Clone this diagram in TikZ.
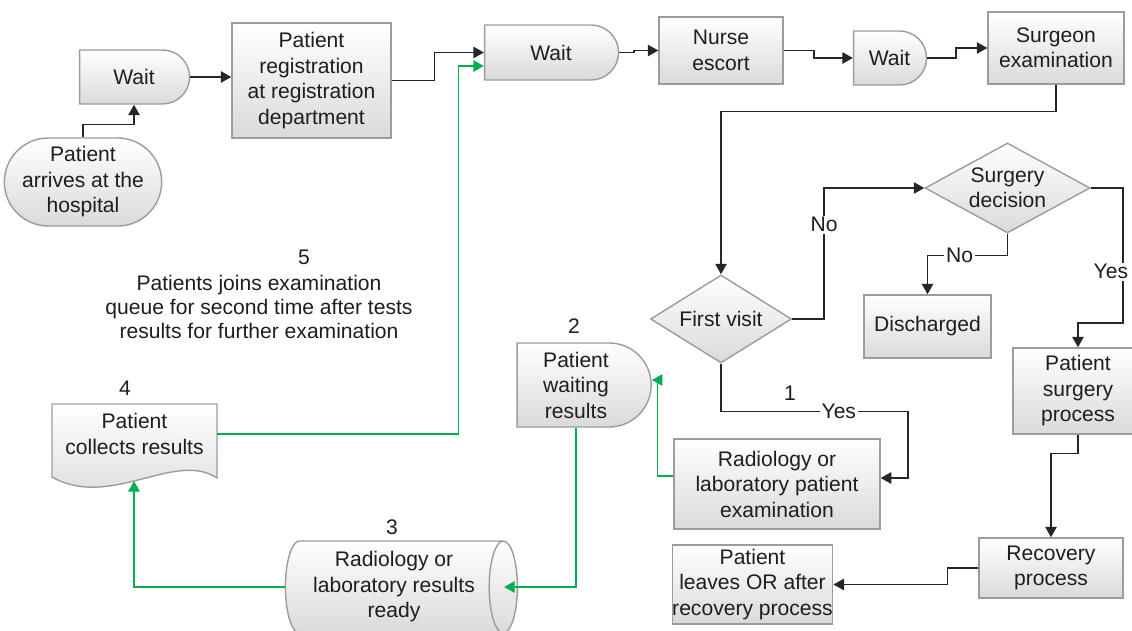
\documentclass[tikz,border=0pt]{standalone}
\usepackage{fontspec}
\setmainfont{Liberation Sans}
\usetikzlibrary{shapes.geometric,shapes.misc,arrows.meta,calc}

\definecolor{boxline}{HTML}{9C9C9C}
\definecolor{boxlow}{HTML}{DADADA}
\definecolor{inktext}{HTML}{1E1E1E}
\definecolor{flowgreen}{HTML}{00B050}

\tikzset{
	every node/.style={font=\fontsize{12}{14.5}\selectfont, text=inktext},
	box/.style={draw=boxline, line width=.8pt, top color=white, bottom color=boxlow, align=center, inner sep=0pt},
	boxsize/.style 2 args={minimum width=#1*0.02cm, minimum height=#2*0.02cm},
	process/.style={box, rectangle},
	waitbox/.style={box, rounded rectangle, rounded rectangle west arc=none},
	startbox/.style={box, rounded rectangle},
	decision/.style={box, diamond, aspect=1.8},
	store/.style={box, cylinder, aspect=0.4},
	flow/.style={draw=black!85, line width=.9pt, -{Triangle[length=6pt,width=6.5pt]}},
	greenflow/.style={flow, draw=flowgreen},
	answer/.style={fill=white, inner sep=1pt},
}

\begin{document}
\begin{tikzpicture}[x=0.02cm, y=-0.02cm]
	\useasboundingbox (0,0) rectangle (1132,631);
	% Admission row
	\node[waitbox, boxsize={110}{54}] (wait1) at (134,77) {Wait};
	\node[startbox, boxsize={145}{88}] (arrive) at (83,182) {Patient\\arrives at the\\hospital};
	\node[process, boxsize={159}{115}] (reg) at (311.5,80.5) {Patient\\registration\\at registration\\department};
	\node[waitbox, boxsize={134}{55}] (wait2) at (551,52.5) {Wait};
	\node[process, boxsize={124}{67}] (nurse) at (721,50.5) {Nurse\\escort};
	\node[waitbox, boxsize={73}{54}] (wait3) at (889.5,58) {Wait};
	\node[process, boxsize={136}{72}] (surgeon) at (1056,48) {Surgeon\\examination};
	% Decisions and surgery
	\node[decision, boxsize={141}{88}] (first) at (721,319) {First visit};
	\node[decision, boxsize={165}{90}] (decide) at (1007.5,188) {Surgery\\decision};
	\node[process, boxsize={127}{63}] (disch) at (927.5,326.5) {Discharged};
	\node[process, boxsize={130}{86}] (surgery) at (1078,391) {Patient\\surgery\\process};
	\node[process, boxsize={144}{60}] (recover) at (1051,568) {Recovery\\process};
	\node[process, boxsize={157}{79}] (leave) at (752.5,584.5) {Patient\\leaves OR after\\recovery process};
	% Tests loop
	\node[process, boxsize={206}{90}] (radexam) at (777,484) {Radiology or\\laboratory patient\\examination};
	\node[waitbox, boxsize={134}{84}] (waitres) at (576,385) {Patient\\waiting\\results};
	% cylinder: width and height are swapped for this shape
	\node[store, boxsize={92}{232}] (ready) at (394,587) {Radiology or\\laboratory results\\ready};
	\shade[box] (52,404) -- (217,404) -- (217,478) .. controls (175,450) and (110,510) .. (52,477) -- cycle;
	\node[align=center, minimum width=165*0.02cm, inner sep=0pt] (collect) at (134.5,434) {Patient\\collects results};
	\coordinate (collectwave) at (134,481);
	% Annotations
	\node (n1) at (790,393) {1};
	\node (n2) at (574,326) {2};
	\node (n3) at (392,527) {3};
	\node (n4) at (125,388) {4};
	\node (n5) at (304,257) {5};
	\node[align=center, font=\fontsize{12}{13.4}\selectfont] (note) at (259,307) {Patients joins examination\\queue for second time after tests\\results for further examination};
	% Main flow
	\draw[flow] (arrive.north) -- ++(0,-13) -| (wait1.south);
	\draw[flow] (wait1.east) -- (wait1.east -| reg.west);
	\draw[flow] (reg.east) -- ++(43,0) |- (wait2.west);
	\draw[flow] (wait2.east) -- ++(15,0) |- (nurse.west);
	\draw[flow] (nurse.east) -- ++(30,0) |- (wait3.west);
	\draw[flow] (wait3.east) -- ++(29,0) |- (surgeon.west);
	\draw[flow] (surgeon.south) -- ++(0,27) -| (first.north);
	\draw[flow] (first.east) -- ++(32,0) |- node[pos=.36, answer]{No} (decide.west);
	\draw[flow] (decide.south) -- ++(0,22) -| node[pos=.3, answer]{No} (disch.north);
	\draw[flow] (decide.east) -- ++(32,0) -- ++(0,135) node[pos=.62, answer, anchor=east, xshift=4.5pt]{Yes} -| (surgery.north);
	\draw[flow] (surgery.south) -- ++(0,19) -| (recover.north);
	\draw[flow] (recover.west) -- ++(-31,0) |- (leave.east);
	\draw[flow] (first.south) -- ++(0,48) -- ++(187,0) node[pos=.63, answer]{Yes} |- ($(radexam.east)+(0,-6)$);
	% Results loop
	\draw[greenflow] ($(radexam.west)+(0,-8)$) -- ++(-16,0) |- ($(waitres.east)+(0,-5)$);
	\draw[greenflow] (waitres.south) |- ($(ready.east)+(-14,0)$);
	\draw[greenflow] (ready.west) -| (collectwave);
	\draw[greenflow] (collect.east) -- ++(241,0) |- ($(wait2.west)+(0,13.5)$);
\end{tikzpicture}
\end{document}
